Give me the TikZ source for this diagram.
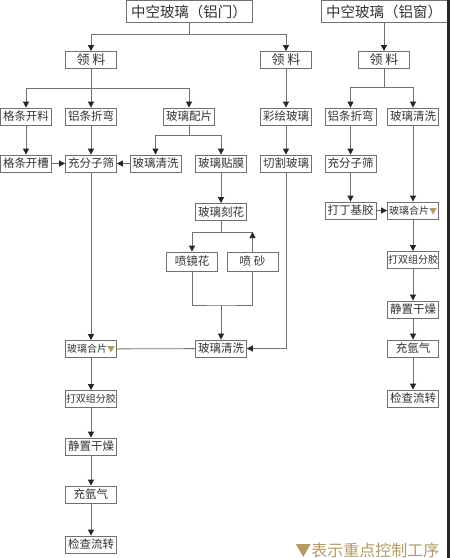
\documentclass[tikz,border=0pt]{standalone}
\usepackage{fontspec}
\usetikzlibrary{arrows.meta}
\newfontfamily\cjk{Noto Sans CJK SC}
\newcommand{\fs}[1]{\fontsize{#1}{#1}\selectfont}
\definecolor{linegray}{HTML}{707070}
\definecolor{gold}{HTML}{B49A62}

\begin{document}
\begin{tikzpicture}[x=1pt, y=-1pt,
    box/.style={draw=linegray, line width=0.8pt, fill=white, inner sep=0pt, text=black!80,
      minimum width=51pt, minimum height=17pt, font=\cjk\fs{11.5}},
    title/.style={box, minimum width=126pt, minimum height=22pt, font=\cjk\fs{14.5}},
    ln/.style={draw=linegray, line width=0.8pt},
    arr/.style={ln, -{Triangle[width=6pt, length=6pt, color=black!85]}}]
  \useasboundingbox (0,0) rectangle (450,558);

  \node [title] (topL) at (189,11.5) {中空玻璃（铝门）};
  \node [title] (topR) at (384,11.5) {中空玻璃（铝窗）};

  \node [box, font=\cjk\fs{13}] (llL) at (91,60) {领 料};
  \node [box, font=\cjk\fs{13}] (llM) at (286,60) {领 料};
  \node [box, font=\cjk\fs{13}] (llR) at (384,60) {领 料};

  \node [box] (glkl) at (26,116.5) {格条开料};
  \node [box] (lzwL) at (91,116.5) {铝条折弯};
  \node [box] (blpp) at (189,116.5) {玻璃配片};
  \node [box] (chbl) at (286,116.5) {彩绘玻璃};
  \node [box] (lzwR) at (350.5,116.5) {铝条折弯};
  \node [box] (blqxR) at (413,116.5) {玻璃清洗};

  \node [box] (gkc) at (26,163.5) {格条开槽};
  \node [box] (cfzsL) at (91,163.5) {充分子筛};
  \node [box] (blqxL) at (155.5,163.5) {玻璃清洗};
  \node [box] (bltm) at (221,163.5) {玻璃贴膜};
  \node [box] (qgbl) at (286,163.5) {切割玻璃};
  \node [box] (cfzsR) at (350.5,163.5) {充分子筛};

  \node [box] (blkh) at (221,212) {玻璃刻花};
  \node [box, minimum height=19pt] (pjh) at (192,261.5) {喷镜花};
  \node [box, minimum height=19pt] (ps) at (252.5,261.5) {喷 砂};
  \node [box] (blqx2) at (221,348.5) {玻璃清洗};

  \node [box] (dd) at (350.5,210.5) {打丁基胶};
  \node [box, font=\cjk\fs{10}] (blhpR) at (413,210.5) {玻璃合片\textcolor{gold}{\fs{8}▼}};
  \node [box, font=\cjk\fs{10}] (sszfR) at (413,260) {打双组分胶};
  \node [box] (jzgzR) at (413,309.5) {静置干燥};
  \node [box] (cyqR) at (413,348.5) {充氩气};
  \node [box] (jclzR) at (413,398.5) {检查流转};

  \node [box, font=\cjk\fs{10}] (blhpL) at (91,349) {玻璃合片\textcolor{gold}{\fs{8}▼}};
  \node [box, font=\cjk\fs{10}] (sszf) at (91,399) {打双组分胶};
  \node [box] (jzgz) at (91,446.5) {静置干燥};
  \node [box] (cyq) at (91,494.5) {充氩气};
  \node [box] (jclz) at (91,544.5) {检查流转};

  \node [font=\cjk\fs{16}, text=gold, anchor=east] (legend) at (443,550) {▼表示重点控制工序};

  \coordinate (jL) at (189,34);
  \coordinate (jA) at (91,88);
  \coordinate (jP) at (189,135);
  \coordinate (jR) at (384,87);
  \coordinate (jK) at (221,232);
  \coordinate (jB) at (221,305);

  \draw [ln] (topL) -- (jL);
  \draw [arr] (jL) -| (llL);
  \draw [arr] (jL) -| (llM);
  \draw [arr] (topR) -- (llR);

  \draw [ln] (llL) -- (jA);
  \draw [arr] (jA) -| (glkl);
  \draw [arr] (jA) -- (lzwL);
  \draw [arr] (jA) -| (blpp);
  \draw [ln] (blpp) -- (jP);
  \draw [arr] (jP) -| (blqxL);
  \draw [arr] (jP) -| (bltm);

  \draw [ln] (llR) -- (jR);
  \draw [arr] (jR) -| (lzwR);
  \draw [arr] (jR) -| (blqxR);

  \foreach \a/\b in {glkl/gkc, lzwL/cfzsL, gkc/cfzsL, blqxL/cfzsL, llM/chbl, chbl/qgbl,
      bltm/blkh, cfzsL/blhpL, blhpL/sszf, sszf/jzgz, jzgz/cyq, cyq/jclz,
      lzwR/cfzsR, cfzsR/dd, dd/blhpR, blqxR/blhpR, blhpR/sszfR, sszfR/jzgzR,
      jzgzR/cyqR, cyqR/jclzR}
    \draw [arr] (\a) -- (\b);

  \draw [ln] (blkh) -- (jK) -- (ps.north |- jK);
  \draw [arr] (jK) -| (pjh);
  \draw [arr] (ps) -- (ps.north |- jK);
  \draw [ln] (pjh.south) |- (jB) -| (ps.south);
  \draw [arr] (jB) -- (blqx2);
  \draw [arr] (qgbl) |- (blqx2);
  \draw [ln] (blqx2) -- (blhpL);

  \fill [black!85] (447,0) rectangle (450,558);
\end{tikzpicture}
\end{document}
